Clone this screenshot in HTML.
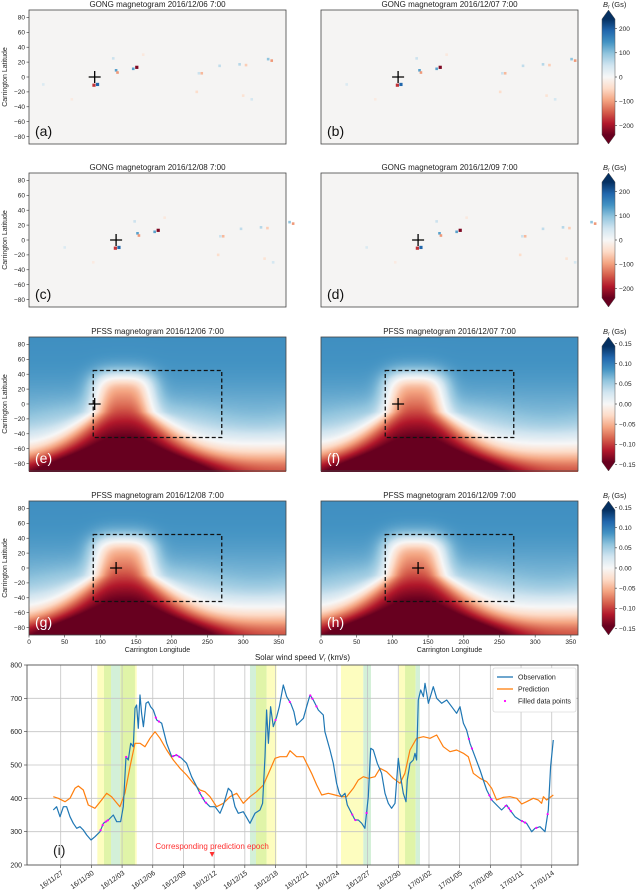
<!DOCTYPE html>
<html><head><meta charset="utf-8">
<style>
html,body{margin:0;padding:0;background:#fff;}
#wrap{position:relative;width:640px;height:890px;overflow:hidden;font-family:"Liberation Sans",sans-serif;}
canvas{position:absolute;z-index:0;}
svg{position:absolute;left:0;top:0;z-index:1;}
text{font-family:"Liberation Sans",sans-serif;fill:#222;}
</style></head>
<body>
<div id="wrap">
<canvas id="c0" width="257" height="135" style="left:29px;top:337px"></canvas>
<canvas id="c1" width="257" height="135" style="left:321px;top:337px"></canvas>
<canvas id="c2" width="257" height="134" style="left:29px;top:501px"></canvas>
<canvas id="c3" width="257" height="134" style="left:321px;top:501px"></canvas>
<svg id="s" width="640" height="890" xmlns="http://www.w3.org/2000/svg"></svg>
</div>
<script>
// ---- chart data (panel i) ----
const dateLabels=['16/11/27','16/11/30','16/12/03','16/12/06','16/12/09','16/12/12','16/12/15','16/12/18','16/12/21','16/12/24','16/12/27','16/12/30','17/01/02','17/01/05','17/01/08','17/01/11','17/01/14'];
const yTicks=[200,300,400,500,600,700,800];
const obsDays=[-0.72,-0.40,-0.07,0.26,0.58,0.91,1.23,1.56,1.89,2.21,2.54,2.96,3.35,3.84,4.17,4.65,5.14,5.47,5.86,6.12,6.38,6.61,6.84,7.10,7.26,7.42,7.59,7.75,7.91,8.08,8.34,8.56,8.79,9.05,9.38,9.87,10.36,10.85,11.33,11.82,12.31,12.80,13.29,13.62,14.10,14.59,15.08,15.57,15.90,16.38,16.71,17.04,17.36,17.85,18.50,18.99,19.48,19.74,19.97,20.13,20.30,20.52,20.78,21.11,21.37,21.76,22.09,22.48,22.80,23.06,23.72,24.04,24.37,24.69,25.18,25.67,25.83,26.32,26.65,26.97,27.23,27.46,27.79,28.02,28.44,28.77,29.09,29.42,29.74,30.07,30.30,30.56,30.95,31.37,31.70,32.02,32.35,32.68,33.00,33.23,33.49,33.75,33.88,34.14,34.47,34.63,34.79,34.96,35.19,35.45,35.61,35.94,36.42,36.75,37.24,37.73,38.22,38.70,39.03,39.36,39.68,40.01,40.50,40.99,41.31,41.64,42.13,42.61,43.10,43.59,43.92,44.41,44.89,45.54,46.04,46.36,46.85,47.34,47.66,47.89,48.15];
const obsVals=[365,375,345,375,375,345,325,310,315,305,290,275,285,300,325,335,350,330,330,375,525,515,565,555,670,680,610,710,655,615,685,690,675,665,635,625,565,525,530,520,505,465,435,415,390,375,375,355,380,430,420,375,355,360,325,355,365,385,525,665,565,675,615,645,675,740,705,685,660,620,640,675,710,695,665,650,600,545,505,445,415,405,415,380,355,335,335,325,310,405,550,545,505,475,415,385,370,385,520,465,415,390,455,505,515,535,515,695,725,705,745,685,735,700,685,695,675,655,675,625,605,565,525,485,455,425,395,380,365,380,365,345,335,325,300,310,315,300,365,495,575];
const predDays=[-0.72,-0.23,0.42,0.91,1.40,1.72,2.21,2.70,3.35,4.00,4.49,4.98,5.79,6.28,6.77,7.26,7.75,8.24,8.73,9.22,9.71,10.36,11.01,11.66,12.31,12.96,13.62,14.10,14.59,15.24,15.90,16.55,17.20,17.85,18.50,19.15,19.81,20.46,20.95,21.44,22.09,22.41,23.06,23.72,24.04,24.53,25.02,25.51,26.16,26.81,27.46,27.95,28.60,29.09,29.58,30.07,30.72,31.21,31.86,32.51,33.17,33.65,34.14,34.79,35.45,36.10,36.75,37.40,38.05,38.70,39.36,39.84,40.33,40.99,41.64,42.13,42.61,43.27,43.92,44.57,45.06,45.54,46.20,46.69,47.01,47.18,47.50,48.15];
const predVals=[405,400,390,400,430,437,425,380,370,395,415,405,375,415,495,565,565,555,580,600,580,545,515,490,470,445,425,420,405,375,385,405,415,385,405,420,440,485,520,525,525,543,525,525,505,475,440,410,415,410,405,405,430,455,465,460,465,490,480,460,445,475,545,580,585,580,590,555,540,545,535,525,475,460,450,430,395,403,405,400,383,390,400,395,385,405,395,410];
const filledDays=[3.9,4.1,4.4,4.6,6.4,9.3,9.6,11.0,11.3,11.6,13.6,13.9,14.2,21.0,22.4,24.4,24.6,25.0,28.5,28.8,29.9,39.9,40.2,41.9,42.1,43.5,43.8,44.0,45.1,45.4,46.5,47.6];
const bandStart=[3.58,4.23,4.92,5.83,7.26,18.5,19.09,20.14,27.4,29.58,33.07,33.66,34.7];
const bandEnd=[4.23,4.92,5.83,7.26,7.43,19.09,20.14,21.1,29.58,30.33,33.66,34.7,35.12];
const bandKind=['y','g','c','g','y','c','g','y','y','c','y','g','c'];
const epochDay=14.8;
// ---- magnetogram panel data ----
const panelLetters=['a','b','c','d','e','f','g','h'];
const panelDates=['2016/12/06','2016/12/07','2016/12/08','2016/12/09','2016/12/06','2016/12/07','2016/12/08','2016/12/09'];
const crossLon=[92,108,122,136,92,108,122,136];
const spotLon=[151,146,122,124,91,96,118,242,238,267,295,304,335,340,235,300,312,20,160,60];
const spotLat=[13,11,9,6,-11,-10,25,5,5,15,17,16,24,22,-20,-25,-30,-10,30,-30];
const spotVal=[-260,150,150,-120,-200,220,60,-90,60,70,80,-70,110,-120,-50,-40,50,40,-30,-25];
const gongTicks=[200,100,0,-100,-200];
const pfssTicks=['0.15','0.10','0.05','0.00','\u22120.05','\u22120.10','\u22120.15'];
const pfssTickVals=[0.15,0.10,0.05,0,-0.05,-0.10,-0.15];
const latTicks=[80,60,40,20,0,-20,-40,-60,-80];
const lonTicks=[0,50,100,150,200,250,300,350];

const NS='http://www.w3.org/2000/svg';
const S=document.getElementById('s');
function el(tag,at,parent){const e=document.createElementNS(NS,tag);for(const k in at)e.setAttribute(k,at[k]);(parent||S).appendChild(e);return e;}
function tx(str,at,parent){const e=el('text',at,parent);e.textContent=str;return e;}

const cmap=[[103,0,31],[178,24,43],[214,96,77],[244,165,130],[253,219,199],[247,247,247],[209,229,240],[146,197,222],[67,147,195],[33,102,172],[5,48,97]];
function col(t){t=Math.max(0,Math.min(1,t));const p=t*10,i=Math.min(9,Math.floor(p)),f=p-i;const a=cmap[i],b=cmap[i+1];return [0,1,2].map(k=>Math.round(a[k]+(b[k]-a[k])*f));}
function rgb(c){return 'rgb('+c.join(',')+')';}

const colX=[29,321],rowY=[10,173,337,501],PW=257,PH=134;
function lx(lon){return lon*PW/360;}
function ly(lat){return (90-lat)*PH/180;}

const defs=el('defs',{});
const lg=el('linearGradient',{id:'cbg',x1:0,y1:1,x2:0,y2:0},defs);
for(let i=0;i<=10;i++)el('stop',{offset:(i/10),'stop-color':rgb(cmap[i])},lg);

function field(lon,lat){
  let base=0.02+0.09*Math.tanh((lat+38)/50)-0.06*Math.exp(-Math.pow((lat+90)/25,2));
  base+=0.02*Math.cos((lon-320)*Math.PI/180)*Math.exp(-Math.pow((lat+30)/30,2));
  const w=42+Math.max(0,-lat-10)*1.1;
  const t=-0.17*Math.exp(-Math.pow(Math.abs(lon-132)/w,3))/(1+Math.exp((lat-38)/7));
  return 0.85*(base+t);
}

for(let p=0;p<8;p++){
  const r=Math.floor(p/2),c=p%2,X=colX[c],Y=rowY[r];
  const g=el('g',{transform:'translate('+X+','+Y+')'});
  
  
  const gong=p<4;
  if(gong){
    el('rect',{x:0,y:0,width:PW,height:PH,fill:'#f5f4f3'},g);
    const sh=crossLon[p]-crossLon[0];
    for(let i=0;i<spotLon.length;i++){
      const v=spotVal[i];const sz=Math.abs(v)>150?3.2:2.6;
      const s=el('rect',{x:lx(spotLon[i]+sh)-sz/2,y:ly(spotLat[i])-sz/2,width:sz,height:sz,fill:rgb(col((v+276)/552))},g);
      
      
    }
  } else {
    const cv=document.getElementById('c'+(p-4));const ctx=cv.getContext('2d');
    const img=ctx.createImageData(cv.width,cv.height);
    for(let yy=0;yy<cv.height;yy++)for(let xx=0;xx<cv.width;xx++){
      const lon=(xx+0.5)*360/cv.width,lat=90-(yy+0.5)*180/cv.height;
      const cc=col((field(lon,lat)+0.15)/0.30);const k=(yy*cv.width+xx)*4;
      img.data[k]=cc[0];img.data[k+1]=cc[1];img.data[k+2]=cc[2];img.data[k+3]=255;
    }
    ctx.putImageData(img,0,0);
    const b=el('rect',{x:lx(90),y:ly(45),width:lx(180),height:ly(-45)-ly(45),fill:'none',stroke:'#111','stroke-width':1.3,'stroke-dasharray':'4,2.5'},g);
    
    
  }
  el('rect',{x:0,y:0,width:PW,height:PH,fill:'none',stroke:'#444','stroke-width':0.8},g);
  const cx=lx(crossLon[p]),cy=ly(0);
  const cr=el('path',{d:'M'+(cx-6)+' '+cy+'H'+(cx+6)+'M'+cx+' '+(cy-6)+'V'+(cy+6),stroke:'#000','stroke-width':1.3},g);
  
  
  const lab=tx('('+panelLetters[p]+')',{x:6,y:PH-8,'font-size':14},g);
  lab.setAttribute('style','fill:'+(gong?'#111':'#fff'));
  
  
  const tt=tx((gong?'GONG':'PFSS')+' magnetogram '+panelDates[p]+' 7:00',{x:PW/2,y:-3,'font-size':8,'text-anchor':'middle'},g);
  
  
  if(c===0){
    for(const la of latTicks){
      el('line',{x1:-2.5,x2:0,y1:ly(la),y2:ly(la),stroke:'#333','stroke-width':0.6},g);
      tx(String(la).replace('-','\u2212'),{x:-4,y:ly(la)+2.3,'font-size':6.5,'text-anchor':'end'},g);
    }
    const yl=tx('Carrington Latitude',{x:0,y:0,'font-size':7,'text-anchor':'middle',transform:'translate(-22,'+(PH/2)+') rotate(-90)'},g);
    
    
  }
  if(r===3){
    for(const lo of lonTicks){
      el('line',{x1:lx(lo),x2:lx(lo),y1:PH,y2:PH+2.5,stroke:'#333','stroke-width':0.6},g);
      tx(String(lo),{x:lx(lo),y:PH+9,'font-size':6.5,'text-anchor':'middle'},g);
    }
    const xl=tx('Carrington Longitude',{x:PW/2,y:PH+17,'font-size':7,'text-anchor':'middle'},g);
    
    
  }
}
for(let r=0;r<4;r++){
  const Y=rowY[r],X=602,W=13;
  const g=el('g',{transform:'translate('+X+','+Y+')'});
  
  
  const tip=9;
  el('rect',{x:0,y:tip,width:W,height:PH-2*tip,fill:'url(#cbg)'},g);
  el('path',{d:'M0 '+tip+'L'+(W/2)+' 0L'+W+' '+tip+'Z',fill:rgb(cmap[10])},g);
  el('path',{d:'M0 '+(PH-tip)+'L'+(W/2)+' '+PH+'L'+W+' '+(PH-tip)+'Z',fill:rgb(cmap[0])},g);
  el('path',{d:'M0 '+tip+'L'+(W/2)+' 0L'+W+' '+tip+'V'+(PH-tip)+'L'+(W/2)+' '+PH+'L0 '+(PH-tip)+'Z',fill:'none',stroke:'#555','stroke-width':0.5},g);
  const mid=PH/2;
  if(r<2){
    for(const v of gongTicks){const yy=mid-v*48.5/200;el('line',{x1:W,x2:W+2,y1:yy,y2:yy,stroke:'#333','stroke-width':0.6},g);tx(String(v).replace('-','\u2212'),{x:W+4,y:yy+2.3,'font-size':6.5},g);}
  } else {
    pfssTickVals.forEach((v,i)=>{const yy=mid-v*60.5/0.15;el('line',{x1:W,x2:W+2,y1:yy,y2:yy,stroke:'#333','stroke-width':0.6},g);tx(pfssTicks[i],{x:W+4,y:yy+2.3,'font-size':6.5},g);});
  }
  const t=el('text',{x:1,y:-3,'font-size':7.5},g);
  t.innerHTML='<tspan font-style="italic">B</tspan><tspan font-size="5" dy="1.5" font-style="italic">r</tspan><tspan dy="-1.5"> (Gs)</tspan>';
}

// ---- panel i ----
const L=27,R=578,T=665,B=865;
const xd=d=>60.7+10.23*d;
const yv=v=>T+(800-v)*(B-T)/600;
const gi=el('g',{});


const bandColor={y:'#fdfdbf',g:'#e0f4a8',c:'#d3f0d8'};
for(let i=0;i<bandStart.length;i++){
  const b=el('rect',{x:xd(bandStart[i]),y:T,width:xd(bandEnd[i])-xd(bandStart[i]),height:B-T,fill:bandColor[bandKind[i]]},gi);
  
  
}
dateLabels.forEach((lab,i)=>{const x=xd(i*3);
  el('line',{x1:x,x2:x,y1:T,y2:B,stroke:'#c4c4c4','stroke-width':0.8},gi);
  el('line',{x1:x,x2:x,y1:B,y2:B+3,stroke:'#333','stroke-width':0.6},gi);
  const t=tx(lab,{x:0,y:0,'font-size':7,'text-anchor':'end',transform:'translate('+(x+3)+','+(B+9)+') rotate(-35)'},gi);
  
  
});
yTicks.forEach(v=>{const y=yv(v);
  el('line',{x1:L,x2:R,y1:y,y2:y,stroke:'#c4c4c4','stroke-width':0.8},gi);
  el('line',{x1:L-3,x2:L,y1:y,y2:y,stroke:'#333','stroke-width':0.6},gi);
  tx(String(v),{x:L-5,y:y+2.5,'font-size':7,'text-anchor':'end'},gi);
});
function poly(ds,vs,color,w,name){const pts=ds.map((d,i)=>xd(d).toFixed(1)+','+yv(vs[i]).toFixed(1)).join(' ');
  const p=el('polyline',{points:pts,fill:'none',stroke:color,'stroke-width':w,'stroke-linejoin':'round'},gi);
  
  }
poly(predDays,predVals,'#ff7f0e',1.2,'prediction-line');
poly(obsDays,obsVals,'#1f77b4',1.2,'observation-line');
function interpObs(d){for(let i=0;i<obsDays.length-1;i++){if(d>=obsDays[i]&&d<=obsDays[i+1]){const f=(d-obsDays[i])/(obsDays[i+1]-obsDays[i]);return obsVals[i]+f*(obsVals[i+1]-obsVals[i]);}}return obsVals[obsVals.length-1];}
filledDays.forEach(d=>{const c=el('circle',{cx:xd(d),cy:yv(interpObs(d)),r:1.1,fill:'#ff00ff'},gi);
  
  });
el('rect',{x:L,y:T,width:R-L,height:B-T,fill:'none',stroke:'#444','stroke-width':0.8},gi);
const ti=el('text',{x:(L+R)/2,y:T-5,'font-size':8,'text-anchor':'middle'},gi);
ti.innerHTML='Solar wind speed <tspan font-style="italic">V</tspan><tspan font-size="5" dy="1.5" font-style="italic">r</tspan><tspan dy="-1.5"> (km/s)</tspan>';


const li=tx('(i)',{x:53,y:855,'font-size':14},gi);


const et=tx('Corresponding prediction epoch',{x:xd(epochDay),y:849,'font-size':8,'text-anchor':'middle'},gi);
et.setAttribute('style','fill:#ff3030');


const tri=el('path',{d:'M'+(xd(epochDay)-2.5)+' 852L'+(xd(epochDay)+2.5)+' 852L'+xd(epochDay)+' 857Z',fill:'#ff3030'},gi);


const lgd=el('g',{transform:'translate(493,668)'},gi);


el('rect',{x:0,y:0,width:83,height:44,fill:'#fff',stroke:'#ccc','stroke-width':0.6,rx:2},lgd);
el('line',{x1:4,x2:20,y1:9,y2:9,stroke:'#1f77b4','stroke-width':1.3},lgd);
tx('Observation',{x:25,y:11.5,'font-size':7},lgd);
el('line',{x1:4,x2:20,y1:21,y2:21,stroke:'#ff7f0e','stroke-width':1.3},lgd);
tx('Prediction',{x:25,y:23.5,'font-size':7},lgd);
el('circle',{cx:12,cy:33,r:1.1,fill:'#ff00ff'},lgd);
tx('Filled data points',{x:25,y:35.5,'font-size':7},lgd);
</script>
</body></html>
